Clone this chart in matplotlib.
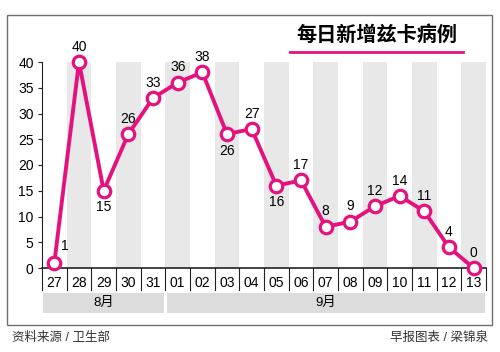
import matplotlib.pyplot as plt
from matplotlib.patches import Rectangle
from matplotlib.lines import Line2D

plt.rcParams['font.family'] = ['Liberation Sans', 'Noto Sans CJK SC', 'DejaVu Sans']

# data
days = ['27', '28', '29', '30', '31', '01', '02', '03', '04', '05',
        '06', '07', '08', '09', '10', '11', '12', '13']
cases = [1, 40, 15, 26, 33, 36, 38, 26, 27, 16, 17, 8, 9, 12, 14, 11, 4, 0]
months = ['8月', '9月']
month_len = [5, 13]
below = [2, 7, 9]  # labels drawn under the point

pink = '#E5127D'
W, H = 500, 352

fig = plt.figure(figsize=(5, 3.52), dpi=100)
fig.patch.set_facecolor('white')

# outer frame
fig.add_artist(Rectangle((7 / W, 1 - 325 / H), 485 / W, 310 / H,
                         transform=fig.transFigure, fill=False,
                         edgecolor='#6f6f6f', lw=1))

ax = fig.add_axes([42 / W, 1 - 268 / H, 444 / W, 206 / H])
n = len(days)
x = list(range(n))
ax.set_xlim(-0.5, n - 0.5)
ax.set_ylim(0, 40)

# alternating gray columns
for i in x:
    if i % 2 == 1:
        ax.axvspan(i - 0.5, i + 0.5, color='#e8e8e8', lw=0, zorder=0)

ax.plot(x, cases, color=pink, lw=2.8, zorder=3, clip_on=False)
ax.plot(x, cases, 'o', ms=9, mfc='white', mec=pink, mew=2.3,
        zorder=4, clip_on=False)

for i, v in enumerate(cases):
    if i == 0:
        ax.annotate(str(v), (i, v), xytext=(5, 7), textcoords='offset points',
                    ha='left', va='bottom', fontsize=10)
    elif i in below:
        ax.annotate(str(v), (i, v), xytext=(0, -7), textcoords='offset points',
                    ha='center', va='top', fontsize=10)
    else:
        ax.annotate(str(v), (i, v), xytext=(0, 6), textcoords='offset points',
                    ha='center', va='bottom', fontsize=10)

# axes styling
for s in ['top', 'right']:
    ax.spines[s].set_visible(False)
ax.spines['left'].set_color('#222222')
ax.spines['bottom'].set_color('#222222')
ax.spines['bottom'].set_linewidth(1.2)
ax.set_yticks(range(0, 41, 5))
ax.tick_params(axis='y', labelsize=10, length=3, pad=3, color='#222222')
ax.set_xticks([])

# day labels with separators
for i, d in enumerate(days):
    ax.add_line(Line2D([i - 0.5, i - 0.5], [0, -4.3], color='#222222',
                       lw=0.8, clip_on=False))
    ax.text(i, -2.9, d, ha='center', va='center', fontsize=10)
ax.add_line(Line2D([n - 0.5, n - 0.5], [0, -4.3], color='#222222',
                   lw=0.8, clip_on=False))

# month bars
start = 0
for m, L in zip(months, month_len):
    ax.add_patch(Rectangle((start - 0.5 + 0.05, -8.7), L - 0.1, 3.85,
                           facecolor='#dcdcdc', edgecolor='none', clip_on=False))
    ax.text(start - 0.5 + L / 2, -6.8, m, ha='center', va='center', fontsize=9.5)
    start += L

# title
fig.text(377 / W, 1 - 35 / H, '每日新增兹卡病例', ha='center', va='center',
         fontsize=14.5, fontweight='bold')
fig.add_artist(Line2D([290 / W, 463 / W], [1 - 52 / H, 1 - 52 / H],
                      transform=fig.transFigure, color=pink, lw=2))

# footer
fig.text(12 / W, 1 - 338 / H, '资料来源 / 卫生部', ha='left', va='center',
         fontsize=9, color='#333333')
fig.text(488 / W, 1 - 338 / H, '早报图表 / 梁锦泉', ha='right', va='center',
         fontsize=9, color='#333333')

fig.savefig('out.png', dpi=100)
